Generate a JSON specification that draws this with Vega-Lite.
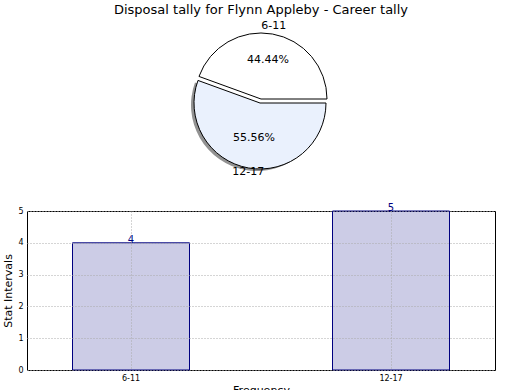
{
  "$schema": "https://vega.github.io/schema/vega-lite/v6.json",
  "padding": {"left": 2, "top": 4, "right": 0, "bottom": 0},
  "background": "white",
  "bounds": "flush",
  "spacing": 37,
  "config": {
    "font": "DejaVu Sans"
  },
  "data": {
    "values": [
      {"cat": "6-11", "value": 4, "pct": "44.44%"},
      {"cat": "12-17", "value": 5, "pct": "55.56%"}
    ]
  },
  "vconcat": [
    {
      "title": {"text": "Disposal tally for Flynn Appleby - Career tally", "fontSize": 13, "fontWeight": "normal", "font": "DejaVu Sans", "anchor": "middle", "offset": 3, "color": "black"},
      "width": 468,
      "height": 150,
      "view": {"stroke": null},
      "resolve": {"scale": {"opacity": "independent"}},
      "encoding": {
        "theta": {"field": "value", "type": "quantitative", "stack": true, "scale": {"range": [1.5707963, 7.8539816]}},
        "order": {"field": "cat", "type": "nominal", "sort": "ascending"}
      },
      "layer": [
        {
          "mark": {"type": "arc", "radius": 66, "xOffset": -4, "yOffset": 6, "fill": "#777777", "fillOpacity": 0.8},
          "encoding": {
            "opacity": {"field": "cat", "type": "nominal", "scale": {"domain": ["6-11", "12-17"], "range": [0, 1]}, "legend": null}
          }
        },
        {
          "mark": {"type": "arc", "radius": 66, "fill": "white", "stroke": "black", "strokeWidth": 1},
          "encoding": {
            "opacity": {"field": "cat", "type": "nominal", "scale": {"domain": ["6-11", "12-17"], "range": [1, 0]}, "legend": null}
          }
        },
        {
          "mark": {"type": "arc", "radius": 66, "xOffset": -1, "yOffset": 4, "fill": "#eaf1fd", "stroke": "black", "strokeWidth": 1},
          "encoding": {
            "opacity": {"field": "cat", "type": "nominal", "scale": {"domain": ["6-11", "12-17"], "range": [0, 1]}, "legend": null}
          }
        },
        {
          "mark": {"type": "text", "radius": 40, "fontSize": 11, "color": "black"},
          "encoding": {"text": {"field": "pct"}}
        },
        {
          "mark": {"type": "text", "radius": 74, "fontSize": 11, "color": "black"},
          "encoding": {"text": {"field": "cat"}}
        }
      ]
    },
    {
      "width": 468,
      "height": 159,
      "view": {"stroke": "black", "strokeWidth": 1},
      "encoding": {
        "x": {
          "field": "cat", "type": "nominal", "sort": ["6-11", "12-17"],
          "scale": {"paddingInner": 0.55, "paddingOuter": 0.175},
          "axis": {"title": "Frequency", "titleFontSize": 11, "titleFontWeight": "normal", "titlePadding": 2, "labelFontSize": 8, "labelAngle": 0, "labelPadding": 4, "ticks": false, "domain": false, "grid": true, "gridDash": [1, 2], "gridColor": "#aaaaaa", "bandPosition": 0.5, "zindex": 1, "labelColor": "black", "titleColor": "black"}
        },
        "y": {
          "field": "value", "type": "quantitative",
          "scale": {"domain": [0, 5], "nice": false},
          "axis": {"title": "Stat Intervals", "titleFontSize": 11, "titleFontWeight": "normal", "titlePadding": 4, "labelFontSize": 8, "labelPadding": 4, "values": [0, 1, 2, 3, 4, 5], "ticks": false, "domain": false, "grid": true, "gridDash": [1, 2], "gridColor": "#aaaaaa", "zindex": 1, "labelColor": "black", "titleColor": "black"}
        }
      },
      "layer": [
        {
          "mark": {"type": "bar", "fill": "#000080", "fillOpacity": 0.2, "stroke": "#000080", "strokeWidth": 1}
        },
        {
          "mark": {"type": "text", "baseline": "bottom", "dy": 2, "fontSize": 10, "color": "#000080"},
          "encoding": {"text": {"field": "value"}}
        }
      ]
    }
  ]
}
